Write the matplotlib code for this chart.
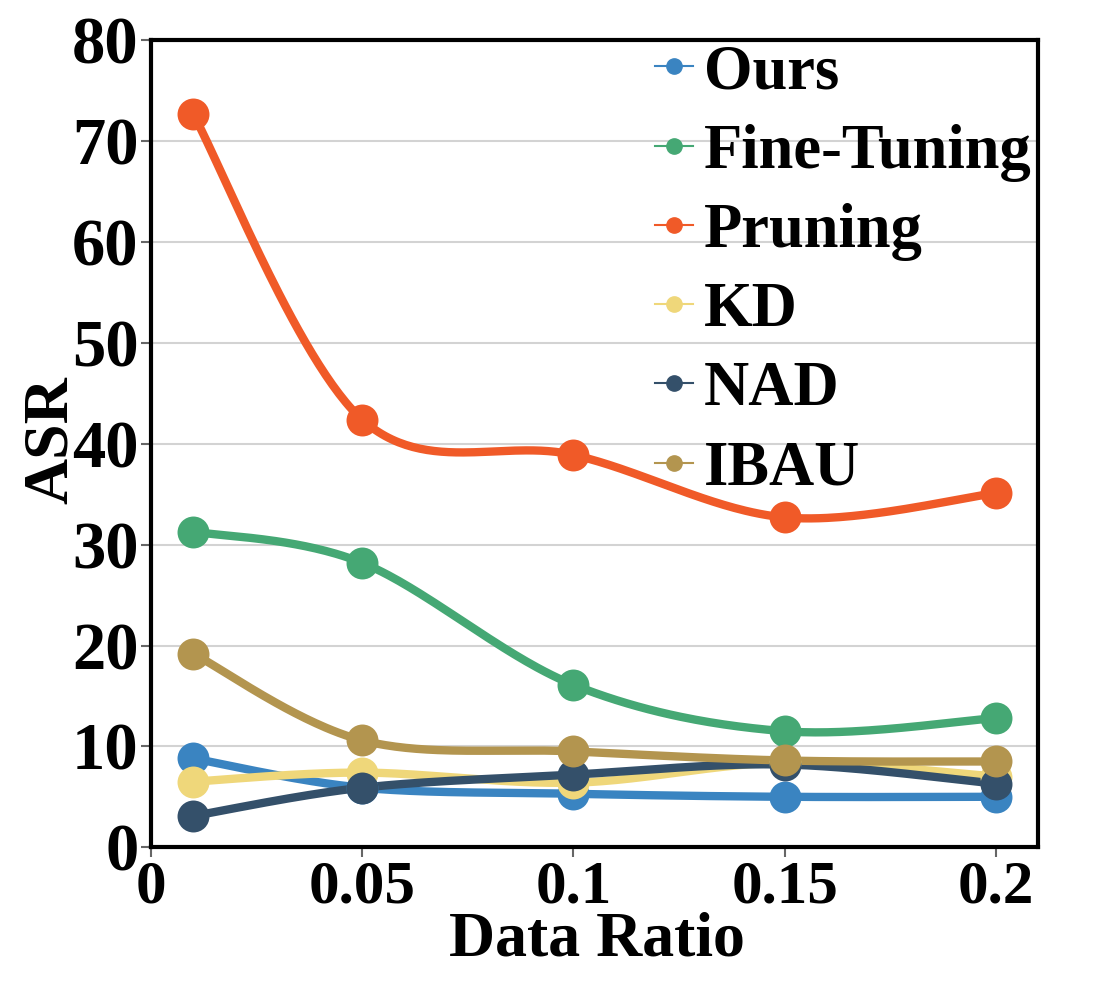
import numpy as np
import matplotlib
matplotlib.use("Agg")
import matplotlib.pyplot as plt
from matplotlib.lines import Line2D

x = [0.01, 0.05, 0.1, 0.15, 0.2]
series_names = ["Ours", "Fine-Tuning", "Pruning", "KD", "NAD", "IBAU"]
ours = [8.8, 5.9, 5.3, 5.0, 5.0]
fine_tuning = [31.3, 28.2, 16.1, 11.5, 12.8]
pruning = [72.7, 42.4, 38.9, 32.7, 35.1]
kd = [6.5, 7.4, 6.4, 8.4, 7.0]
nad = [3.1, 5.9, 7.2, 8.2, 6.3]
ibau = [19.2, 10.6, 9.5, 8.6, 8.5]
values = [ours, fine_tuning, pruning, kd, nad, ibau]
colors = ["#3A84C1", "#45A874", "#F05A28", "#EFD77A", "#34506A", "#B3954F"]
xticks = [0, 0.05, 0.1, 0.15, 0.2]
xticklabels = ["0", "0.05", "0.1", "0.15", "0.2"]
yticks = [0, 10, 20, 30, 40, 50, 60, 70, 80]

plt.rcParams['font.family'] = ['Liberation Serif', 'DejaVu Serif']
plt.rcParams['font.weight'] = 'bold'

fig = plt.figure(figsize=(10.93, 9.84), dpi=100)
ax = fig.add_axes([0.138, 0.139, 0.812, 0.820])
XMAX, YMAX = 0.21, 80
ax.set_xlim(0, XMAX)
ax.set_ylim(0, YMAX)
aspect = 0.820 * 9.84 / (0.812 * 10.93)


def catmull(xs, ys, n=60, tension=0.5):
    px = np.asarray(xs) / XMAX
    py = np.asarray(ys) / YMAX * aspect
    P = np.column_stack([px, py])
    out = []
    m = len(P)
    for i in range(m - 1):
        p0 = P[i - 1] if i > 0 else P[i]
        p1 = P[i]
        p2 = P[i + 1]
        p3 = P[i + 2] if i + 2 < m else P[i + 1]
        t1 = tension * (p2 - p0)
        t2 = tension * (p3 - p1)
        t = np.linspace(0, 1, n)[:, None]
        h00 = 2 * t**3 - 3 * t**2 + 1
        h10 = t**3 - 2 * t**2 + t
        h01 = -2 * t**3 + 3 * t**2
        h11 = t**3 - t**2
        seg = h00 * p1 + h10 * t1 + h01 * p2 + h11 * t2
        out.append(seg if i == 0 else seg[1:])
    out = np.vstack(out)
    return out[:, 0] * XMAX, out[:, 1] / aspect * YMAX


for yy in [10, 20, 30, 40, 50, 60, 70]:
    ax.axhline(yy, color="#d3d3d3", lw=1.5, zorder=0)

for name, vals, c in zip(series_names, values, colors):
    sx, sy = catmull(x, vals)
    ax.plot(sx, sy, color=c, lw=6, solid_capstyle='round', zorder=2)
    ax.plot(x, vals, 'o', color=c, ms=23, zorder=3, markeredgewidth=0)

for s in ax.spines.values():
    s.set_linewidth(3)
    s.set_color("black")

ax.set_xticks(xticks)
ax.set_xticklabels(xticklabels)
ax.set_yticks(yticks)
ax.tick_params(axis='both', direction='out', length=7, width=1.5, color='#666666', pad=2)
ax.tick_params(axis='x', labelsize=44)
ax.tick_params(axis='y', labelsize=48)
for lab in ax.get_xticklabels() + ax.get_yticklabels():
    lab.set_fontweight('bold')

ax.set_xlabel("Data Ratio", fontsize=46, fontweight='bold')
ax.set_ylabel("ASR", fontsize=46, fontweight='bold')
ax.xaxis.set_label_coords(0.503, -0.080)
ax.yaxis.set_label_coords(-0.079, 0.504)

handles = [Line2D([0], [0], color=c, lw=1.5, marker='o', ms=11) for c in colors]
leg = ax.legend(handles, series_names, loc='upper left', bbox_to_anchor=(0.540, 1.026),
                frameon=False, fontsize=45, handlelength=0.6, handletextpad=0.18,
                labelspacing=0.34, borderaxespad=0)
for t in leg.get_texts():
    t.set_fontweight('bold')

fig.savefig("out.png", dpi=100)
